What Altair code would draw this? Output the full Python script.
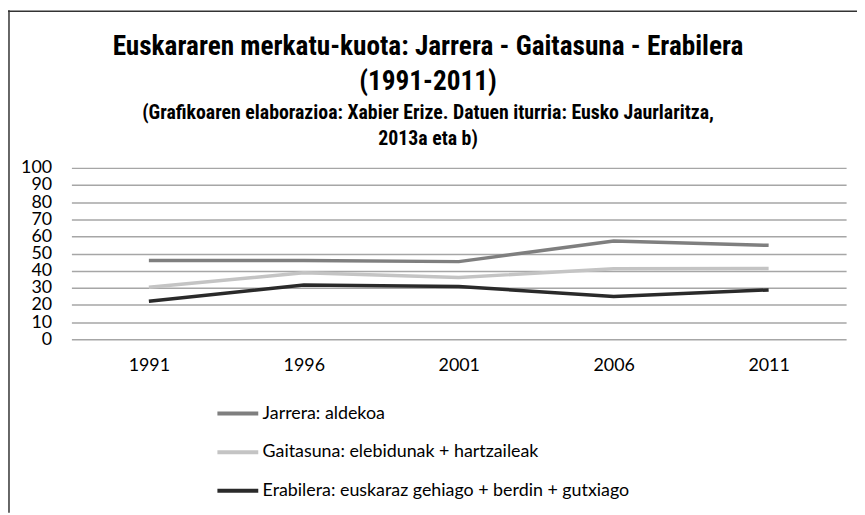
import altair as alt
import pandas as pd

years = ["1991", "1996", "2001", "2006", "2011"]
series = [
    "Jarrera: aldekoa",
    "Gaitasuna: elebidunak + hartzaileak",
    "Erabilera: euskaraz gehiago + berdin + gutxiago",
]
jarrera = [46.0, 46.0, 45.3, 57.3, 54.8]
gaitasuna = [30.4, 38.8, 36.0, 41.2, 41.3]
erabilera = [22.2, 31.7, 30.8, 25.0, 28.8]
colors = ["#7f7f7f", "#c4c4c4", "#2a2a2a"]
y_ticks = [0, 10, 20, 30, 40, 50, 60, 70, 80, 90, 100]
title_lines = ["Euskararen merkatu-kuota: Jarrera - Gaitasuna - Erabilera", "(1991-2011)"]
subtitle_lines = ["(Grafikoaren elaborazioa: Xabier Erize. Datuen iturria: Eusko Jaurlaritza,",
                  "2013a eta b)"]

rows = []
for name, vals in zip(series, [jarrera, gaitasuna, erabilera]):
    for yr, v in zip(years, vals):
        rows.append({"urtea": yr, "seriea": name, "balioa": v})
df = pd.DataFrame(rows)

FONT = "Lato"
TFONT = "Roboto Condensed, Roboto, sans-serif"

lines = alt.Chart(df).mark_line(strokeWidth=3.5).encode(
    x=alt.X("urtea:N", sort=years, title=None,
            scale=alt.Scale(paddingInner=0, paddingOuter=0),
            axis=alt.Axis(labelAngle=0, ticks=False, domain=False, grid=False,
                          labelFontSize=18, labelFont=FONT, labelColor="#000",
                          labelPadding=18)),
    y=alt.Y("balioa:Q", title=None,
            scale=alt.Scale(domain=[0, 100], nice=False),
            axis=alt.Axis(values=y_ticks, ticks=False, domain=False,
                          gridColor="#a6a6a6", gridWidth=1.5,
                          labelFontSize=18, labelFont=FONT, labelColor="#000",
                          labelPadding=20, labelOverlap=False, labelBound=False)),
    color=alt.Color("seriea:N", sort=series,
                    scale=alt.Scale(domain=series, range=colors),
                    legend=alt.Legend(title=None, orient="none", direction="vertical",
                                      legendX=145, legendY=225,
                                      symbolType="stroke", symbolSize=1700,
                                      symbolStrokeWidth=4, labelFontSize=18,
                                      labelFont=FONT, labelColor="#000",
                                      labelOffset=2, rowPadding=7, padding=0,
                                      labelLimit=600)),
)

tdf = pd.DataFrame({"t": title_lines, "yy": [-122, -87]})
sdf = pd.DataFrame({"t": subtitle_lines, "yy": [-55, -29]})
title_mark = alt.Chart(tdf).mark_text(font=TFONT, fontSize=27.5, fontWeight="bold",
                                      color="#000", align="center", baseline="middle").encode(
    text="t:N", x=alt.value(360), y=alt.Y("yy:Q", scale=None))
sub_mark = alt.Chart(sdf).mark_text(font=TFONT, fontSize=20, fontWeight="bold",
                                    color="#000", align="center", baseline="middle").encode(
    text="t:N", x=alt.value(360), y=alt.Y("yy:Q", scale=None))

one = pd.DataFrame({"a": [0]})
left_border = alt.Chart(one).mark_rule(color="#333333", strokeWidth=1.5).encode(
    x=alt.value(-63), y=alt.value(-159), y2=alt.value(348))
top_border = alt.Chart(one).mark_rule(color="#333333", strokeWidth=1.5).encode(
    x=alt.value(-64), x2=alt.value(793), y=alt.value(-158))

chart = alt.layer(lines, title_mark, sub_mark, left_border, top_border).properties(
    width=782, height=173,
    padding={"left": 64, "top": 159, "right": 11, "bottom": 175},
    autosize=alt.AutoSizeParams(type="none"),
    background="white",
).configure_view(stroke=None)

chart.save("out.html", embed_options={"renderer": "svg", "actions": False})
